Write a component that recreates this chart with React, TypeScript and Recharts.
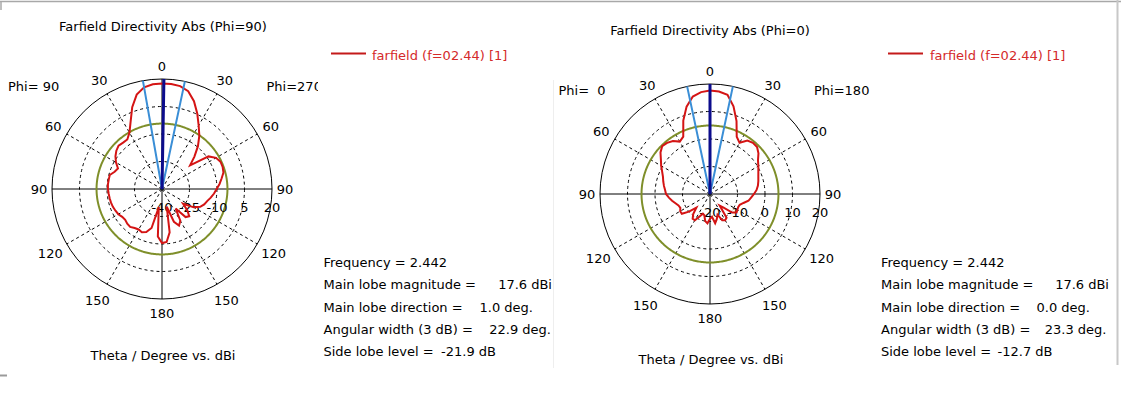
import React from 'react'
import {
  RadarChart,
  Radar,
  PolarGrid,
  PolarAngleAxis,
  PolarRadiusAxis,
} from 'recharts'

const FONT = 'DejaVu Sans, sans-serif'

const thetaSteps = [
  0, 5, 10, 15, 20, 25, 30, 35, 40, 45, 50, 55, 60, 65, 70, 75, 80, 85,
  90, 95, 100, 105, 110, 115, 120, 125, 130, 135, 140, 145, 150, 155, 160, 165, 170, 175,
  180, 185, 190, 195, 200, 205, 210, 215, 220, 225, 230, 235, 240, 245, 250, 255, 260, 265,
  270, 275, 280, 285, 290, 295, 300, 305, 310, 315, 320, 325, 330, 335, 340, 345, 350, 355,
]

// directivity in dBi, Phi=90 cut (right half = Phi 270 side)
const directivityPhi90 = [
  17.6, 17.5, 17.0, 15.2, 11.0, 5.5, 0.0, -4.5, -9.5, -15.0, -20.0, -9.0, -6.0, -4.8, -4.8, -5.3, -7.0, -8.5,
  -10.2, -11.5, -13.0, -14.5, -15.5, -17.0, -20.0, -26.0, -22.0, -19.0, -20.0, -27.0, -20.0, -18.0, -21.0, -30.0, -16.0, -11.0,
  -10.5, -14.0, -30.0, -18.0, -15.0, -14.0, -14.5, -14.0, -13.0, -13.2, -13.8, -13.5, -12.5, -12.0, -11.5, -11.2, -11.0, -10.8,
  -10.5, -10.4, -10.5, -10.5, -12.5, -13.5, -11.0, -9.0, -7.5, -6.5, -7.0, -7.0, -4.5, 0.5, 7.5, 13.3, 16.3, 17.3,
]

// directivity in dBi, Phi=0 cut (right half = Phi 180 side)
const directivityPhi0 = [
  17.6, 17.4, 16.6, 13.0, 8.2, 3.0, 1.5, 3.7, 4.3, 4.2, 3.0, 1.3, 0.3, -0.6, -1.3, -1.8, -2.3, -3.0,
  -4.0, -5.0, -5.8, -7.4, -8.5, -8.7, -8.5, -8.2, -9.5, -13.0, -14.5, -9.5, -9.0, -9.5, -12.0, -10.5, -9.2, -11.7,
  -11.0, -9.3, -10.0, -12.0, -12.4, -11.0, -9.0, -9.0, -10.5, -13.0, -10.0, -7.5, -7.5, -8.1, -7.8, -7.0, -6.0, -5.0,
  -4.0, -3.6, -3.0, -2.4, -1.8, -0.8, 0.5, 1.8, 3.5, 4.6, 4.3, 3.5, 2.0, 3.0, 8.4, 12.9, 16.0, 17.2,
]

const radialTicksPhi90 = [-40, -25, -10, 5, 20]
const radialTicksPhi0 = [-20, -10, 0, 10, 20]

const frequency = '2.442'
const mainLobeMagnitude = [17.6, 17.6]
const mainLobeDirection = [1.0, 0.0]
const angularWidth = [22.9, 23.3]
const sideLobeLevel = [-21.9, -12.7]

const wrap = (a: number) => ((Math.round(a) % 360) + 360) % 360

// one row per degree, used for the grid, the side lobe circle and the beam lines
function buildDegreeRows(ticks: number[], panel: number) {
  const lo = ticks[0]
  const hi = ticks[ticks.length - 1]
  const dir = wrap(mainLobeDirection[panel])
  const edgeA = wrap(mainLobeDirection[panel] - angularWidth[panel] / 2)
  const edgeB = wrap(mainLobeDirection[panel] + angularWidth[panel] / 2)
  const sll = mainLobeMagnitude[panel] + sideLobeLevel[panel]
  const rows = []
  for (let psi = 0; psi < 360; psi++) {
    rows.push({
      psi,
      sll,
      main: psi === dir ? hi : lo,
      beam: psi === edgeA || psi === edgeB ? hi : lo,
    })
  }
  return rows
}

// labels in the lower half sit a little further out, like the original
const labelPush = (theta: number) => {
  if (theta === 30 || theta === 60) return 2.5
  if (theta === 120 || theta === 150) return 6
  if (theta === 180) return 1.5
  return 0
}

const AngleTick = (props: any) => {
  const { x, y, payload } = props
  const psi = Number(payload.value)
  if (psi % 30 !== 0) return <g />
  const label = psi <= 180 ? psi : 360 - psi
  const rad = ((90 - psi) * Math.PI) / 180
  const push = labelPush(label)
  return (
    <text
      x={x + push * Math.cos(rad)}
      y={y - push * Math.sin(rad)}
      textAnchor="middle"
      dominantBaseline="central"
      fontFamily={FONT}
      fontSize={13}
      fill="#000"
    >
      {label}
    </text>
  )
}

const RadiusTick = (props: any) => {
  const { x, y, payload } = props
  return (
    <text x={x} y={y + 18} textAnchor="middle" dominantBaseline="central" fontFamily={FONT} fontSize={13} fill="#000">
      {payload.value}
    </text>
  )
}

const R = 110
const dashedAngles = [60, 30, -30, -60, -120, -150, 150, 120]
const axisAngles = [90, 0, -90, -180]

function Layer({ data, cy, ticks, children, showAxes }: any) {
  return (
    <RadarChart
      width={330}
      height={340}
      data={data}
      cx={162}
      cy={cy}
      outerRadius={R}
      startAngle={90}
      endAngle={-270}
      margin={{ top: 0, right: 0, bottom: 0, left: 0 }}
    >
      {showAxes && (
        <PolarGrid
          gridType="circle"
          polarRadius={[R / 4, R / 2, (3 * R) / 4]}
          polarAngles={dashedAngles}
          stroke="#000"
          strokeDasharray="3 3"
        />
      )}
      {showAxes && <PolarGrid gridType="circle" polarRadius={[R]} polarAngles={axisAngles} stroke="#000" />}
      <PolarAngleAxis
        dataKey="psi"
        tick={showAxes ? <AngleTick /> : false}
        tickLine={false}
        axisLine={false}
        tickSize={13}
      />
      <PolarRadiusAxis
        angle={0}
        type="number"
        domain={[ticks[0], ticks[ticks.length - 1]]}
        ticks={ticks}
        tick={showAxes ? <RadiusTick /> : false}
        axisLine={false}
        tickLine={false}
      />
      {children}
    </RadarChart>
  )
}

function PolarPlot({ values, ticks, panel, left, cy }: { values: number[]; ticks: number[]; panel: number; left: number; cy: number }) {
  const degreeRows = buildDegreeRows(ticks, panel)
  const patternRows = thetaSteps.map((psi, i) => ({ psi, dir: values[i] }))
  const pos = { position: 'absolute' as const, left, top: 0 }
  return (
    <>
      <div style={pos}>
        <Layer data={degreeRows} cy={cy} ticks={ticks} showAxes>
          <Radar dataKey="sll" stroke="#7f8f2a" strokeWidth={2} fill="none" fillOpacity={0} dot={false} isAnimationActive={false} />
        </Layer>
      </div>
      <div style={pos}>
        <Layer data={patternRows} cy={cy} ticks={ticks}>
          <Radar dataKey="dir" stroke="#d41414" strokeWidth={2} fill="none" fillOpacity={0} dot={false} isAnimationActive={false} />
        </Layer>
      </div>
      <div style={pos}>
        <Layer data={degreeRows} cy={cy} ticks={ticks}>
          <Radar dataKey="beam" stroke="#3a8ed6" strokeWidth={2} fill="none" fillOpacity={0} dot={false} isAnimationActive={false} />
          <Radar dataKey="main" stroke="#0c0c8c" strokeWidth={3} fill="none" fillOpacity={0} dot={false} isAnimationActive={false} />
        </Layer>
      </div>
    </>
  )
}

const infoLabels = ['Main lobe magnitude =', 'Main lobe direction =', 'Angular width (3 dB) =', 'Side lobe level =']

function InfoBlock({ x, panel, ends }: { x: number; panel: number; ends: number[] }) {
  const vals = [
    `${mainLobeMagnitude[panel].toFixed(1)} dBi`,
    `${mainLobeDirection[panel].toFixed(1)} deg.`,
    `${angularWidth[panel].toFixed(1)} deg.`,
    `${sideLobeLevel[panel].toFixed(1)} dB`,
  ]
  const y0 = 262.3
  const dy = 22.35
  return (
    <g fontFamily={FONT} fontSize={13} fill="#000" dominantBaseline="central">
      <text x={x} y={y0}>Frequency = {frequency}</text>
      {infoLabels.map((l, i) => (
        <React.Fragment key={l}>
          <text x={x} y={y0 + dy * (i + 1)}>{l}</text>
          <text x={ends[i]} y={y0 + dy * (i + 1)} textAnchor="end">{vals[i]}</text>
        </React.Fragment>
      ))}
    </g>
  )
}

export default function App() {
  return (
    <div style={{ position: 'absolute', left: 0, top: 0, width: 1121, height: 393, background: '#fff', overflow: 'hidden' }}>
      <svg width={1121} height={393} style={{ position: 'absolute', left: 0, top: 0 }}>
        <defs>
          <clipPath id="leftPanel">
            <rect x={0} y={0} width={318} height={393} />
          </clipPath>
        </defs>
        <line x1={0} y1={1.5} x2={1121} y2={1.5} stroke="#a8a8a8" strokeWidth={1.5} />
        <line x1={1} y1={1} x2={1} y2={10} stroke="#a8a8a8" strokeWidth={1.5} />
        <line x1={1117.5} y1={0} x2={1117.5} y2={365} stroke="#c8c8c8" strokeWidth={2} />
        <line x1={553.5} y1={80} x2={553.5} y2={368} stroke="#eeeeee" strokeWidth={1} />
        <line x1={0} y1={375.5} x2={7} y2={375.5} stroke="#9a9a9a" strokeWidth={2} />

        <g fontFamily={FONT} fontSize={13} fill="#000" dominantBaseline="central">
          <text x={163} y={26} textAnchor="middle">Farfield Directivity Abs (Phi=90)</text>
          <text x={710} y={30} textAnchor="middle">Farfield Directivity Abs (Phi=0)</text>
          <text x={8} y={86.5}>Phi= 90</text>
          <text x={266.5} y={86.5} clipPath="url(#leftPanel)">Phi=270</text>
          <text x={558.5} y={90.5} xmlSpace="preserve">Phi=  0</text>
          <text x={814} y={90.5}>Phi=180</text>
          <text x={163} y={355} textAnchor="middle">Theta / Degree vs. dBi</text>
          <text x={711} y={359} textAnchor="middle">Theta / Degree vs. dBi</text>
        </g>

        <line x1={331} y1={53.5} x2={366} y2={53.5} stroke="#c41a1a" strokeWidth={2} />
        <text x={372} y={55} fontFamily={FONT} fontSize={13} fill="#d42a2a" dominantBaseline="central">farfield (f=02.44) [1]</text>
        <line x1={888} y1={53.5} x2={923} y2={53.5} stroke="#c41a1a" strokeWidth={2} />
        <text x={930} y={55} fontFamily={FONT} fontSize={13} fill="#d42a2a" dominantBaseline="central">farfield (f=02.44) [1]</text>

        <InfoBlock x={323.5} panel={0} ends={[552, 533, 551, 496]} />
        <InfoBlock x={881} panel={1} ends={[1109, 1090, 1106.5, 1052.5]} />
      </svg>

      <PolarPlot values={directivityPhi90} ticks={radialTicksPhi90} panel={0} left={0} cy={189} />
      <PolarPlot values={directivityPhi0} ticks={radialTicksPhi0} panel={1} left={548} cy={194} />
    </div>
  )
}
